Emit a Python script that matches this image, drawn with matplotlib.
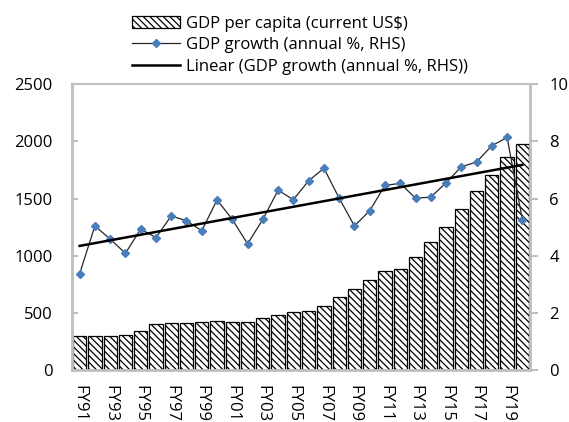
import numpy as np
import matplotlib
matplotlib.use("Agg")
import matplotlib.pyplot as plt

plt.rcParams["font.family"] = ["Open Sans", "DejaVu Sans"]
plt.rcParams["hatch.linewidth"] = 0.9

years = [f"FY{y % 100:02d}" for y in range(1991, 2021)]
gdp_per_capita = [298, 298, 300, 301, 340, 401, 406, 412, 418, 424,
                  421, 418, 450, 479, 506, 515, 561, 637, 708, 784,
                  865, 886, 988, 1123, 1251, 1406, 1570, 1702, 1860, 1977]
gdp_growth = [3.36, 5.04, 4.58, 4.08, 4.93, 4.63, 5.39, 5.22, 4.87, 5.95,
              5.27, 4.41, 5.27, 6.29, 5.96, 6.62, 7.06, 6.01, 5.04, 5.57,
              6.46, 6.53, 6.01, 6.05, 6.55, 7.11, 7.28, 7.85, 8.14, 5.25]

grey = "#bfbfbf"
x = np.arange(len(years))

fig = plt.figure(figsize=(5.69, 4.22), dpi=100, facecolor="white")
ax = fig.add_axes([0.1265, 0.1237, 0.805, 0.6765])

bars = ax.bar(x, gdp_per_capita, width=0.87, color="white", edgecolor="black",
              linewidth=0.9, hatch="\\\\\\\\\\", label="GDP per capita (current US$)")
ax.set_xlim(-0.5, len(years) - 0.5)
ax.set_ylim(0, 2500)
ax.set_yticks(range(0, 2501, 500))
ax.set_xticks(x[::2])
ax.set_xticklabels(years[::2], rotation=-90, fontsize=12)
ax.tick_params(axis="x", length=0, pad=11)
ax.tick_params(axis="y", direction="in", length=4, color=grey, width=1.5, labelsize=12, pad=14)
for side, sp in ax.spines.items():
    sp.set_color(grey)
    sp.set_linewidth(2 if side != "top" else 1.5)

ax2 = ax.twinx()
growth_line, = ax2.plot(x, gdp_growth, color="#262626", linewidth=0.9, marker="D",
                        markersize=4.2, markerfacecolor="#4a7ebb", markeredgecolor="#4a7ebb",
                        label="GDP growth (annual %, RHS)")
coef = np.polyfit(x, gdp_growth, 1)
trend, = ax2.plot(x, np.polyval(coef, x), color="black", linewidth=1.8,
                  label="Linear (GDP growth (annual %, RHS))")
ax2.set_ylim(0, 10)
ax2.set_yticks(range(0, 11, 2))
ax2.tick_params(axis="y", direction="out", length=6, color=grey, width=1.5, labelsize=12, pad=8)
for sp in ax2.spines.values():
    sp.set_visible(False)

fig.legend(handles=[bars, growth_line, trend], loc="upper center",
           bbox_to_anchor=(0.527, 0.99), frameon=False, fontsize=12,
           handlelength=2.9, handletextpad=0.35, labelspacing=0.32,
           borderpad=0.2)

fig.savefig("out.png", dpi=100, facecolor="white")
